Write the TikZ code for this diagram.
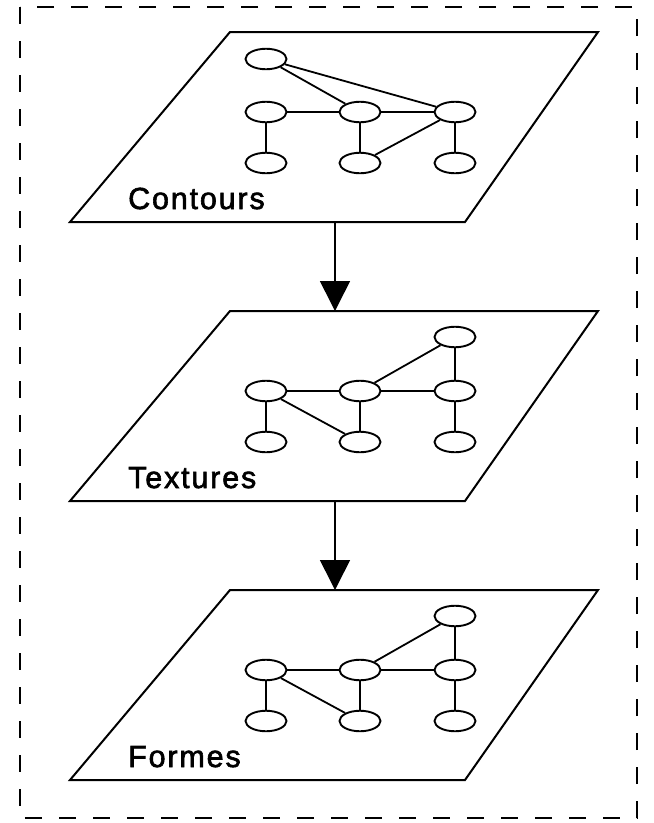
\documentclass[tikz,border=0pt]{standalone}
\usepackage{fontspec}
\setmainfont{Liberation Sans}
\newfontfamily\lblfont[LetterSpace=6,FakeBold=2]{Liberation Sans}
\usetikzlibrary{arrows.meta,shapes.geometric}
\begin{document}
\begin{tikzpicture}[x=1pt,y=-1pt,
  panel/.style={draw,line width=2pt,line join=miter},
  vtx/.style={draw,ellipse,line width=1.9pt,minimum width=41pt,minimum height=20.5pt,inner sep=0pt},
  edge/.style={line width=1.8pt},
  lbl/.style={anchor=base west,font=\lblfont\fontsize{30.5}{30.5}\selectfont,inner sep=0pt},
  flow/.style={line width=1.6pt,-{Triangle[length=30pt,width=30pt]}},
]
\useasboundingbox (0,0) rectangle (654,823);
\draw[dash pattern=on 17pt off 17pt, line width=1.5pt] (20,7) rectangle (637,818);
% panels
\foreach \t/\k/\txt in {32/1/Contours,311/2/Textures,590/3/Formes}{
  \draw[panel] (230,\t) -- (598,\t) -- (465,\t+190) -- (70,\t+190) -- cycle;
  \node[lbl] (lab\k) at (128,\t+177) {\txt};
  \node[vtx] (m\k a) at (266,\t+80) {};
  \node[vtx] (m\k b) at (360,\t+80) {};
  \node[vtx] (m\k c) at (455,\t+80) {};
  \node[vtx] (b\k a) at (266,\t+131) {};
  \node[vtx] (b\k b) at (360,\t+131) {};
  \node[vtx] (b\k c) at (455,\t+131) {};
  \coordinate (top\k) at (335,\t);
  \coordinate (bot\k) at (335,\t+190);
}
% panel 1 graph
\node[vtx] (t1) at (266,59) {};
\draw[edge] (t1) -- (m1b);
\draw[edge] (t1) -- (m1c);
\draw[edge] (m1a) -- (m1b);
\draw[edge] (m1b) -- (m1c);
\draw[edge] (m1a) -- (b1a);
\draw[edge] (m1b) -- (b1b);
\draw[edge] (m1c) -- (b1c);
\draw[edge] (b1b) -- (m1c);
% panels 2 and 3 graphs
\node[vtx] (t2) at (455,337) {};
\node[vtx] (t3) at (455,616) {};
\foreach \k in {2,3}{
  \draw[edge] (m\k b) -- (t\k);
  \draw[edge] (t\k) -- (m\k c);
  \draw[edge] (m\k a) -- (m\k b);
  \draw[edge] (m\k b) -- (m\k c);
  \draw[edge] (m\k a) -- (b\k a);
  \draw[edge] (m\k a) -- (b\k b);
  \draw[edge] (m\k b) -- (b\k b);
  \draw[edge] (m\k c) -- (b\k c);
}
% flow arrows
\draw[flow] (bot1) -- (top2);
\draw[flow] (bot2) -- (top3);
\end{tikzpicture}
\end{document}
